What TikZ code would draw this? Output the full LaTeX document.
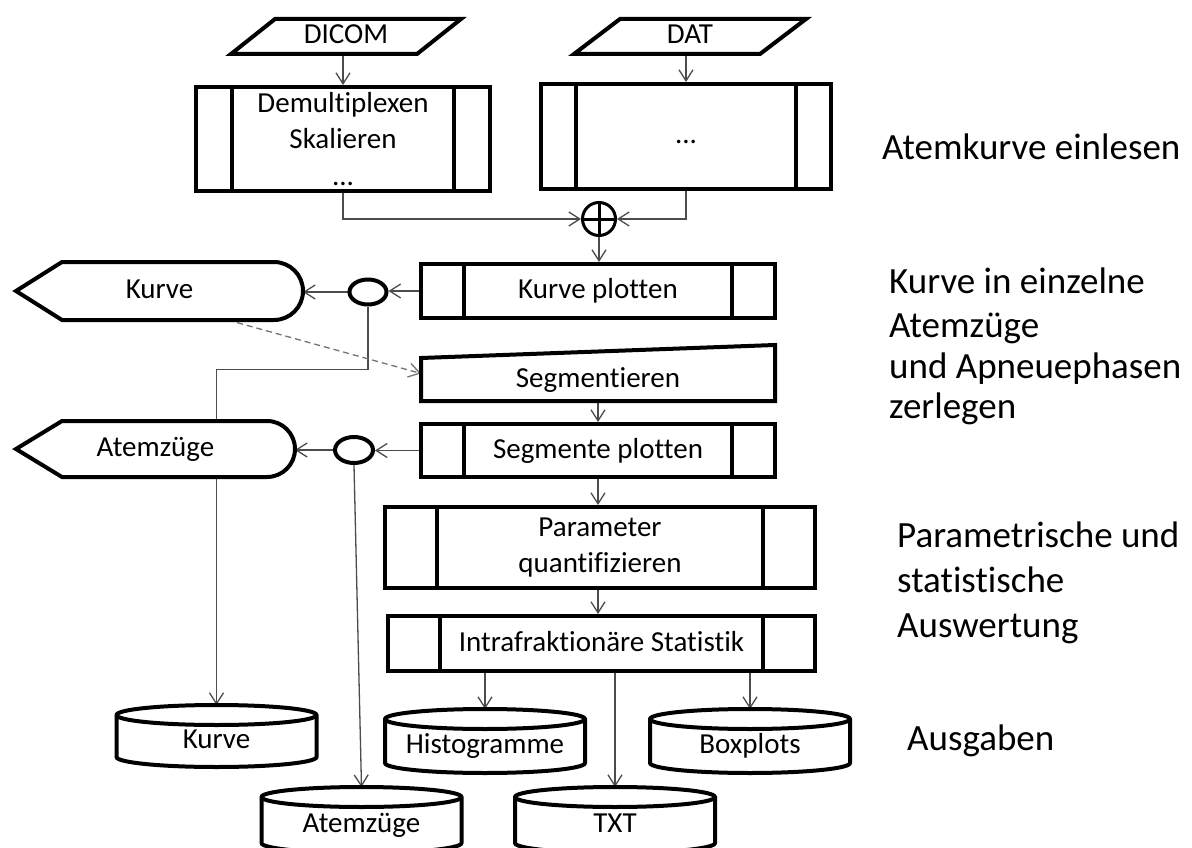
\documentclass[tikz,border=0pt]{standalone}
\usepackage{fontspec}
\setmainfont{Carlito}[Ligatures={NoCommon}]
\usetikzlibrary{arrows.meta,shapes.geometric}
\pgfdeclarelayer{background}
\pgfdeclarelayer{outline}
\pgfsetlayers{background,outline,main}
\newcommand\bxfont{\fontsize{29}{36.5}\selectfont}
\newcommand\sidefont{\fontsize{37}{44}\selectfont}
\begin{document}
\begin{tikzpicture}[x=1pt,y=-1pt,
  boxline/.style={line width=4pt, draw=black, line join=miter},
  txt/.style={font=\bxfont, inner sep=0pt, text height=21pt, text depth=6pt},
  proc/.style={boxline, fill=white, inner sep=0pt, font=\bxfont, align=center},
  shapenode/.style={txt, outer sep=0pt},
  blob/.style={ellipse, boxline, fill=white, inner sep=0pt},
  side/.style={font=\sidefont, inner sep=0pt, anchor=base west},
  conn/.style={line width=1.3pt, draw=black!70, -{Straight Barb[length=11pt,width=14pt]}},
  hint/.style={conn, draw=black!55, dash pattern=on 6pt off 4pt}
]
\useasboundingbox (0,0) rectangle (1192,848);

% ---------- data sources ----------
\node[shapenode, minimum width=186pt, minimum height=35pt] (dicom) at (346,36.5) {DICOM};
\node[shapenode, minimum width=186pt, minimum height=35pt] (dat) at (690,36.5) {DAT};

% ---------- processing steps ----------
\node[proc, minimum width=294pt, minimum height=104pt] (demux) at (343,139) {Demultiplexen\\Skalieren\\...};
\node[proc, txt, minimum width=290pt, minimum height=105pt] (datbox) at (686,136.5) {...};
\node[draw, circle, line width=3pt, fill=white, minimum size=33pt, inner sep=0pt] (xor) at (599,219) {};
\node[proc, txt, minimum width=354pt, minimum height=54pt] (plotk) at (598,291) {Kurve plotten};
\node[shapenode, minimum width=354pt, minimum height=43pt] (seg) at (598,379.5) {Segmentieren};
\node[proc, txt, minimum width=354pt, minimum height=53pt] (plots) at (598,450.5) {Segmente plotten};
\node[proc, minimum width=430pt, minimum height=81pt] (param) at (600,547.5) {Parameter\\quantifizieren};
\node[proc, txt, minimum width=427pt, minimum height=55pt] (stat) at (601.5,643.5) {Intrafraktionäre Statistik};

% ---------- branch points ----------
\node[blob, minimum width=37pt, minimum height=25pt] (kcirc) at (368,292) {};
\node[blob, minimum width=38pt, minimum height=26pt] (acirc) at (354,450) {};

% ---------- displays ----------
\node[shapenode, minimum width=287pt, minimum height=58pt] (kdisp) at (159.5,291) {Kurve};
\node[shapenode, minimum width=279pt, minimum height=56pt] (adisp) at (155.5,449) {Atemzüge};

% ---------- stores ----------
\node[shapenode, minimum width=200pt, minimum height=52pt] (kcyl) at (216.5,741) {Kurve};
\node[shapenode, minimum width=200pt, minimum height=54pt] (hcyl) at (485,746) {Histogramme};
\node[shapenode, minimum width=200pt, minimum height=54pt] (bcyl) at (750,746) {Boxplots};
\node[shapenode, minimum width=200pt, minimum height=56pt] (acyl) at (361.5,825) {Atemzüge};
\node[shapenode, minimum width=200pt, minimum height=56pt] (tcyl) at (615,825) {TXT};

% ---------- phase labels ----------
\node[side] (phase1) at (882,160) {Atemkurve einlesen};
\node[side] (phase2a) at (889,293) {Kurve in einzelne};
\node[side] (phase2b) at (889,337) {Atemzüge};
\node[side] (phase2c) at (889,378) {und Apneuephasen};
\node[side] (phase2d) at (889,418) {zerlegen};
\node[side] (phase3a) at (897,547) {Parametrische und};
\node[side] (phase3b) at (897,592) {statistische};
\node[side] (phase3c) at (897,637) {Auswertung};
\node[side] (phase4) at (907,750) {Ausgaben};

% inner bars of the predefined-process boxes
\foreach \n/\d in {demux/38, datbox/37, plotk/45, plots/45, param/54, stat/54}
  \draw[boxline] ([xshift=\d pt]\n.north west) -- ([xshift=\d pt]\n.south west)
                 ([xshift=-\d pt]\n.north east) -- ([xshift=-\d pt]\n.south east);

% cross of the join
\draw[line width=3pt] (xor.north) -- (xor.south) (xor.west) -- (xor.east);

% ---------- outlines of the special shapes ----------
\begin{pgfonlayer}{outline}
  \draw[boxline, fill=white] ([xshift=-22pt]dicom.south west) -- ([xshift=-22pt]dicom.south east)
     -- ([xshift=22pt]dicom.north east) -- ([xshift=22pt]dicom.north west) -- cycle;
  \draw[boxline, fill=white] ([xshift=-23pt]dat.south west) -- ([xshift=-23pt]dat.south east)
     -- ([xshift=23pt]dat.north east) -- ([xshift=23pt]dat.north west) -- cycle;
  \draw[boxline, fill=white] (seg.south west) -- (seg.north west)
     -- ([yshift=13pt]seg.north east) -- (seg.south east) -- cycle;
  \draw[boxline, fill=white] (kdisp.west) -- ([xshift=46pt]kdisp.north west)
     -- ([xshift=-29pt]kdisp.north east) arc[start angle=90, end angle=-90, radius=29pt]
     -- ([xshift=46pt]kdisp.south west) -- cycle;
  \draw[boxline, fill=white] (adisp.west) -- ([xshift=46pt]adisp.north west)
     -- ([xshift=-28pt]adisp.north east) arc[start angle=90, end angle=-90, radius=28pt]
     -- ([xshift=46pt]adisp.south west) -- cycle;
  \foreach \n in {kcyl,hcyl,bcyl,acyl,tcyl}{
    \draw[boxline, fill=white] (\n.north west) -- ([yshift=10pt]\n.south west)
       arc[start angle=180, end angle=360, x radius=100pt, y radius=10pt]
       -- (\n.north east) arc[start angle=0, end angle=180, x radius=100pt, y radius=10pt] -- cycle;
    \draw[boxline] (\n.north west) arc[start angle=180, end angle=360, x radius=100pt, y radius=10pt];
  }
\end{pgfonlayer}

% ---------- connectors ----------
\begin{pgfonlayer}{background}
  \fill[white] (0,0) rectangle (1192,848);
  \draw[conn] (demux.north |- dicom.south) -- (demux.north);
  \draw[conn] (datbox.north |- dat.south) -- (datbox.north);
  \draw[conn] (demux.south) |- (xor.west);
  \draw[conn] (datbox.south) |- (xor.east);
  \draw[conn] (xor.south) -- (xor.south |- plotk.north);
  \draw[conn] (plotk.west) -- (plotk.west -| kcirc.east);
  \draw[conn] (kcirc.west) -- (kcirc.west -| kdisp.east);
  \draw[conn] (plots.west) -- (plots.west -| acirc.east);
  \draw[conn] (acirc.west) -- (acirc.west -| adisp.east);
  \draw[conn] (kcirc.south) -- ++(0,63) -| ([yshift=10pt]kcyl.north);
  \draw[conn] (acirc.south) -- ([yshift=10pt]acyl.north);
  \draw[hint] ([xshift=68pt]kdisp.south) -- ([yshift=6pt]seg.west);
  \draw[conn] (seg.south) -- (plots.north);
  \draw[conn] (plots.south) -- (plots.south |- param.north);
  \draw[conn] (plots.south |- param.south) -- (plots.south |- stat.north);
  \draw[conn] (hcyl.north |- stat.south) -- ([yshift=10pt]hcyl.north);
  \draw[conn] (tcyl.north |- stat.south) -- ([yshift=10pt]tcyl.north);
  \draw[conn] (bcyl.north |- stat.south) -- ([yshift=10pt]bcyl.north);
\end{pgfonlayer}
\end{tikzpicture}
\end{document}
